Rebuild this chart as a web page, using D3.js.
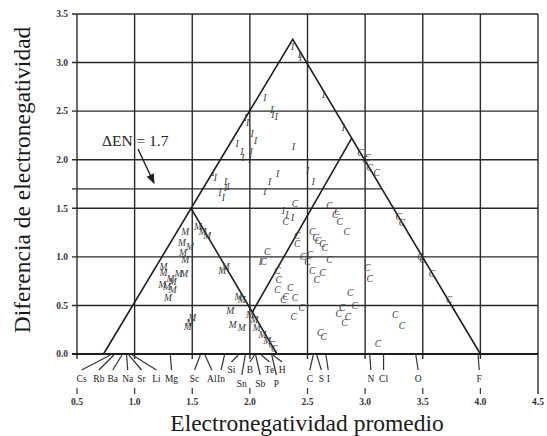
<!DOCTYPE html>
<html>
<head>
<meta charset="utf-8">
<script src="https://cdn.jsdelivr.net/npm/d3@7"></script>
<style>
  html, body { margin: 0; padding: 0; background: #fff; }
  svg { display: block; }
  text { font-family: "Liberation Serif", "Times New Roman", serif; }
</style>
</head>
<body>
<svg id="chart" width="547" height="436"></svg>
<script>
// Axis ticks
const xTicks = [0.5, 1.0, 1.5, 2.0, 2.5, 3.0, 3.5, 4.0, 4.5];
const yTicks = [0.0, 0.5, 1.0, 1.5, 2.0, 2.5, 3.0, 3.5];
const ionicLimit = 1.7;

// Elements along the base (pure elements, ΔEN = 0)
const elements   = ["Cs","Rb","Ba","Na","Sr","Li","Mg","Sc","Al","In","Si","Sn","B","Sb","Te","P","H","C","S","I","N","Cl","O","F"];
const elementEN  = [0.79,0.82,0.89,0.93,0.95,0.98,1.31,1.57,1.61,1.78,1.90,1.96,2.04,2.05,2.10,2.19,2.20,2.55,2.58,2.66,3.04,3.16,3.44,3.98];
// where each element name sits (EN units) and which label row it uses
const elementLabelAt = [0.54,0.69,0.81,0.94,1.06,1.19,1.32,1.52,1.67,1.75,1.84,1.93,2.00,2.09,2.17,2.23,2.28,2.52,2.62,2.68,3.05,3.16,3.46,3.99];
const elementRow     = [0,0,0,0,0,0,0,0,0,0,1,2,1,2,1,2,1,0,0,0,0,0,0,0];

// Triangle outline and inner boundaries [average EN, ΔEN]
const triangle = [[0.73, 0], [2.372, 3.24], [4.0, 0]];
const boundaryA = [[1.49, 1.50], [2.235, 0]];
const boundaryB = [[2.02, 0.43], [2.885, 2.225]];

// Binary compounds: [average EN, ΔEN]
const ionic = [
  [2.37,3.16],[2.43,3.08],[2.44,3.05],[2.64,2.67],[2.81,2.33],[2.13,2.64],[2.19,2.51],
  [2.20,2.46],[2.23,2.44],[1.96,2.43],[1.98,2.38],[2.02,2.27],[2.05,2.20],[1.89,2.17],
  [1.93,2.08],[1.94,2.02],[2.01,2.08],[2.00,2.00],[2.38,2.13],[2.24,1.86],[2.17,1.77],
  [2.13,1.67],[2.50,1.89],[2.55,1.77],[1.68,1.87],[1.70,1.81],[1.79,1.77],[1.79,1.71],
  [1.74,1.66],[1.77,1.61],[1.81,1.72],[2.29,1.48],[2.32,1.43],[2.37,1.40],[2.09,0.95]
];
const covalent = [
  [2.96,2.07],[3.00,2.00],[3.04,1.92],[3.10,1.87],[3.02,2.02],[2.39,1.55],[2.31,1.36],
  [2.69,1.53],[2.74,1.43],[2.78,1.36],[2.84,1.26],[2.76,1.46],[2.54,1.26],[2.57,1.20],
  [2.59,1.17],[2.63,1.14],[2.65,1.09],[2.41,1.22],[2.41,1.14],[2.46,1.00],[2.52,1.02],
  [2.50,0.95],[2.54,0.86],[2.58,0.76],[2.63,0.84],[2.69,0.97],[3.02,0.89],[3.04,0.78],
  [2.24,0.86],[2.24,0.66],[2.35,0.68],[2.31,0.59],[2.39,0.58],[2.45,0.48],[2.38,0.38],
  [2.29,0.56],[2.87,0.63],[2.91,0.50],[2.80,0.48],[2.77,0.42],[2.85,0.38],[2.82,0.32],
  [3.26,0.40],[3.32,0.29],[3.11,0.11],[2.61,0.22],[2.64,0.18],[3.29,1.41],[3.32,1.35],
  [3.48,1.00],[3.50,0.97],[3.58,0.83],[3.73,0.56],[2.15,1.05],[2.12,0.95],[2.25,0.76],
  [2.21,0.05],[2.19,0.10]
];
const metallic = [
  [1.55,1.31],[1.59,1.26],[1.63,1.22],[1.76,0.86],[1.79,0.90],[1.90,0.59],[1.93,0.56],
  [1.83,0.45],[1.85,0.30],[1.93,0.27],[2.00,0.40],[2.06,0.27],[2.11,0.20],[2.15,0.14],
  [1.44,1.26],[1.41,1.15],[1.48,1.10],[1.42,1.04],[1.44,0.97],[1.25,0.90],
  [1.25,0.84],[1.38,0.83],[1.43,0.83],[1.31,0.78],[1.33,0.74],[1.24,0.71],[1.28,0.69],
  [1.33,0.66],[1.29,0.58],[1.48,0.32],[1.50,0.37],[1.46,0.28],[2.04,0.35]
];

const svg = d3.select("#chart");
const x = d3.scaleLinear().domain([0.5, 4.5]).range([77, 538]);
const y = d3.scaleLinear().domain([0, 3.5]).range([354, 14]);
const ink = "#1e1e1e";

// grid (horizontal lines carry a short tick to the left)
const grid = svg.append("g").attr("stroke", "#2a2a2a").attr("stroke-width", 1.4);
grid.selectAll("line.h").data(yTicks).join("line")
  .attr("x1", x(0.5) - 5).attr("x2", x(4.5))
  .attr("y1", d => y(d)).attr("y2", d => y(d));
grid.selectAll("line.v").data(xTicks).join("line")
  .attr("x1", d => x(d)).attr("x2", d => x(d))
  .attr("y1", y(3.5)).attr("y2", d => d === 4.5 ? 394 : y(0) + 5);
svg.append("line").attr("stroke", ink).attr("stroke-width", 2)
  .attr("x1", x(0.5) - 5).attr("x2", x(4.5)).attr("y1", y(0)).attr("y2", y(0));

// ΔEN = 1.7 line, running up to the right edge of the triangle
const right = d3.scaleLinear().domain([triangle[2][1], triangle[1][1]]).range([triangle[2][0], triangle[1][0]]);
svg.append("line").attr("stroke", "#2a2a2a").attr("stroke-width", 1.2)
  .attr("x1", x(0.5) - 5).attr("x2", x(right(ionicLimit)))
  .attr("y1", y(ionicLimit)).attr("y2", y(ionicLimit));

// y tick labels
svg.append("g").selectAll("text").data(yTicks).join("text")
  .attr("x", 68).attr("y", d => y(d)).attr("dy", "0.35em")
  .attr("text-anchor", "end").attr("font-size", 9.5).attr("font-weight", "bold").attr("fill", "#333")
  .text(d => d.toFixed(1));

// x tick marks and labels (below the element names)
const xt = svg.append("g");
xt.selectAll("line").data(xTicks.filter(d => d < 4.5)).join("line")
  .attr("x1", d => x(d)).attr("x2", d => x(d)).attr("y1", 388).attr("y2", 394)
  .attr("stroke", "#333").attr("stroke-width", 1.2);
xt.selectAll("text").data(xTicks).join("text")
  .attr("x", d => x(d)).attr("y", 405).attr("text-anchor", "middle")
  .attr("font-size", 9.5).attr("font-weight", "bold").attr("fill", "#333")
  .text(d => d.toFixed(1));

// triangle and inner boundaries
const line = d3.line().x(d => x(d[0])).y(d => y(d[1]));
svg.append("path").attr("d", line(triangle)).attr("fill", "none").attr("stroke", ink).attr("stroke-width", 1.6);
[boundaryA, boundaryB].forEach(b =>
  svg.append("path").attr("d", line(b)).attr("fill", "none").attr("stroke", ink).attr("stroke-width", 1.6));

// element leaders and names
const rowEnd = [370, 362, 375];
const rowBase = [382, 373, 387];
const el = svg.append("g");
el.selectAll("line").data(elements).join("line")
  .attr("x1", (d, i) => x(elementEN[i])).attr("y1", y(0) + 1)
  .attr("x2", (d, i) => x(elementLabelAt[i])).attr("y2", (d, i) => rowEnd[elementRow[i]])
  .attr("stroke", "#333").attr("stroke-width", 1.2);
el.selectAll("text").data(elements).join("text")
  .attr("x", (d, i) => x(elementLabelAt[i])).attr("y", (d, i) => rowBase[elementRow[i]])
  .attr("text-anchor", "middle").attr("font-size", 9.5).attr("fill", "#222")
  .text(d => d);

// compound markers
function marks(data, letter) {
  svg.append("g").selectAll("text").data(data).join("text")
    .attr("x", d => x(d[0])).attr("y", d => y(d[1])).attr("dy", "0.35em")
    .attr("text-anchor", "middle").attr("font-size", 9.5).attr("font-style", "italic")
    .attr("fill", "#3a3a3a").text(letter);
}
marks(ionic, "I");
marks(covalent, "C");
marks(metallic, "M");

// ΔEN annotation with arrow
svg.append("defs").append("marker").attr("id", "head")
  .attr("viewBox", "0 0 10 10").attr("refX", 9).attr("refY", 5)
  .attr("markerWidth", 7).attr("markerHeight", 7).attr("orient", "auto")
  .append("path").attr("d", "M0,1 L10,5 L0,9 Z").attr("fill", ink);
svg.append("text").attr("x", 102).attr("y", 146).attr("font-size", 15.5).attr("fill", "#222").text("ΔEN = 1.7");
svg.append("line").attr("x1", 138).attr("y1", 149).attr("x2", 154).attr("y2", 183)
  .attr("stroke", ink).attr("stroke-width", 1.4).attr("marker-end", "url(#head)");

// axis titles
svg.append("text").attr("x", 307).attr("y", 431).attr("text-anchor", "middle")
  .attr("font-size", 23.5).attr("fill", "#1a1a1a").text("Electronegatividad promedio");
svg.append("text").attr("transform", "translate(30,180) rotate(-90)").attr("text-anchor", "middle")
  .attr("font-size", 23.5).attr("fill", "#1a1a1a").text("Diferencia de electronegatividad");
</script>
</body>
</html>
